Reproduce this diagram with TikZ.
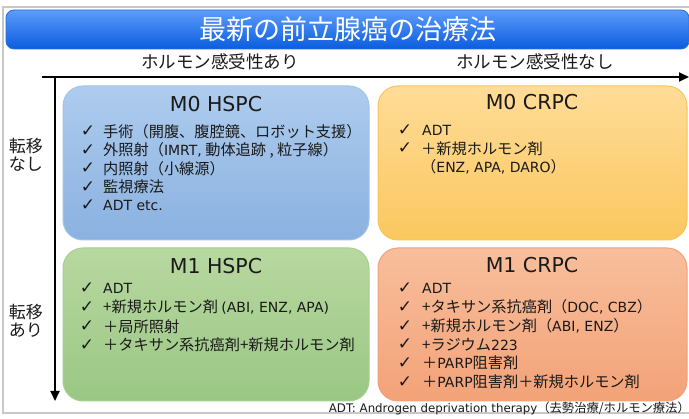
\documentclass[tikz,border=0pt]{standalone}
\usepackage{fontspec}
\setmainfont{Noto Sans CJK JP}
\newfontfamily\symfont{DejaVu Sans}
\newfontfamily\latfont{DejaVu Sans}
\newcommand{\lat}[1]{{\latfont\fontsize{14}{16}\selectfont #1}}
\usetikzlibrary{arrows.meta}
\definecolor{txt}{HTML}{1A1A1A}
\definecolor{frame}{HTML}{C8C8C8}
\definecolor{tbtop}{HTML}{5C9CFB}
\definecolor{tbbot}{HTML}{0B5CDF}
\definecolor{tbdraw}{HTML}{2A6FE0}
\definecolor{bluetop}{HTML}{AECCEE}
\definecolor{bluebot}{HTML}{8AB1E0}
\definecolor{bluedraw}{HTML}{A3C4EA}
\definecolor{oratop}{HTML}{FFDC98}
\definecolor{orabot}{HTML}{FBC75E}
\definecolor{oradraw}{HTML}{F8C45C}
\definecolor{grntop}{HTML}{B8D8A0}
\definecolor{grnbot}{HTML}{9AC784}
\definecolor{grndraw}{HTML}{A6D08E}
\definecolor{saltop}{HTML}{F8BE9C}
\definecolor{salbot}{HTML}{F3A277}
\definecolor{saldraw}{HTML}{F2A27A}
\begin{document}
\begin{tikzpicture}[x=1pt,y=-1pt,
  box/.style={rounded corners=20pt, line width=1pt},
  boxtitle/.style={font=\latfont\fontsize{20.5}{24}\selectfont, text=txt, anchor=center},
  chk/.style={font=\symfont\fontsize{17}{18}\selectfont, text=txt, anchor=center, inner sep=0pt},
  itm/.style={font=\fontsize{15.2}{17}\selectfont, text=txt, anchor=west, inner sep=0pt},
  hdr/.style={font=\fontsize{17.5}{20}\selectfont, text=txt, anchor=center},
  side/.style={font=\fontsize{17}{18.5}\selectfont, text=txt, align=center, anchor=center},
  axis/.style={line width=1.8pt, -{Triangle[length=10pt,width=9pt]}}
]
\useasboundingbox (0,0) rectangle (689,419);
\fill[white] (0,0) rectangle (689,419);
% gray frame
\draw[frame, line width=1.5pt] (689,7) -- (3,7) -- (3,413) -- (689,413);

% title bar
\path[rounded corners=8pt, top color=tbtop, bottom color=tbbot, draw=tbdraw, line width=0.8pt]
  (6,10) rectangle (689,49);
\node[font=\fontsize{27}{30}\selectfont, text=white] (title) at (348,29.5) {最新の前立腺癌の治療法};

% headers
\node[hdr] (h1) at (220,61.5) {ホルモン感受性あり};
\node[hdr] (h2) at (535,61.5) {ホルモン感受性なし};

% side labels
\node[side] (s1) at (26,155) {転移\\なし};
\node[side] (s2) at (26,321) {転移\\あり};

% boxes
\path[box, top color=bluetop, bottom color=bluebot, draw=bluedraw] (63,86) rectangle (369,240);
\path[box, top color=oratop, bottom color=orabot, draw=oradraw] (378,86) rectangle (687,240);
\path[box, top color=grntop, bottom color=grnbot, draw=grndraw] (63,248) rectangle (369,401);
\path[box, top color=saltop, bottom color=salbot, draw=saldraw] (378,248) rectangle (687,401);

% axes
\coordinate (ax0) at (42,77);
\coordinate (axh) at (689,77);
\coordinate (av0) at (55,77);
\coordinate (avb) at (55,401);
\draw[axis] (ax0) -- (axh);
\draw[axis] (av0) -- (avb);

% M0 HSPC
\node[boxtitle] (t1) at (216,104) {M0 HSPC};
\foreach \y/\t [count=\i] in {131.5/{手術（開腹、腹腔鏡、ロボット支援）},150/{外照射（\lat{IMRT,} 動体追跡 , 粒子線）},168.5/{内照射（小線源）},187/{監視療法},205.5/{\lat{ADT etc.}}}{
  \node[chk] (ca\i) at (88,\y) {✓};
  \node[itm] (ia\i) at (103,\y) {\t};
}
% M0 CRPC
\node[boxtitle] (t2) at (532,102) {M0 CRPC};
\node[chk] (cb1) at (405,130) {✓};
\node[itm] (ib1) at (422,130) {\lat{ADT}};
\node[chk] (cb2) at (405,148.5) {✓};
\node[itm] (ib2) at (421,148.5) {＋新規ホルモン剤};
\node[itm] (ib3) at (421,167) {（\lat{ENZ, APA, DARO}）};

% M1 HSPC
\node[boxtitle] (t3) at (216,266) {M1 HSPC};
\foreach \y/\t [count=\i] in {288/{\lat{ADT}},307.5/{+新規ホルモン剤 \lat{(ABI, ENZ, APA)}},326.5/{＋局所照射},345/{＋タキサン系抗癌剤+新規ホルモン剤}}{
  \node[chk] (cc\i) at (87,\y) {✓};
  \node[itm] (ic\i) at (103,\y) {\t};
}

% M1 CRPC
\node[boxtitle] (t4) at (532,265) {M1 CRPC};
\foreach \y/\t [count=\i] in {288/{\lat{ADT}},307/{+タキサン系抗癌剤（\lat{DOC, CBZ}）},326/{+新規ホルモン剤（\lat{ABI, ENZ}）},344.5/{+ラジウム\lat{223}},363/{＋\lat{PARP}阻害剤},382/{＋\lat{PARP}阻害剤＋新規ホルモン剤}}{
  \node[chk] (cd\i) at (405,\y) {✓};
  \node[itm] (id\i) at (422,\y) {\t};
}

% footnote
\node[font=\fontsize{12.3}{14}\selectfont, text=txt, anchor=east, inner sep=0pt] (fn) at (690,408.5) {\latfont\fontsize{11.8}{14}\selectfont ADT: Androgen deprivation therapy\normalfont\fontsize{12.3}{14}\selectfont（去勢治療/ホルモン療法）};
\end{tikzpicture}
\end{document}
